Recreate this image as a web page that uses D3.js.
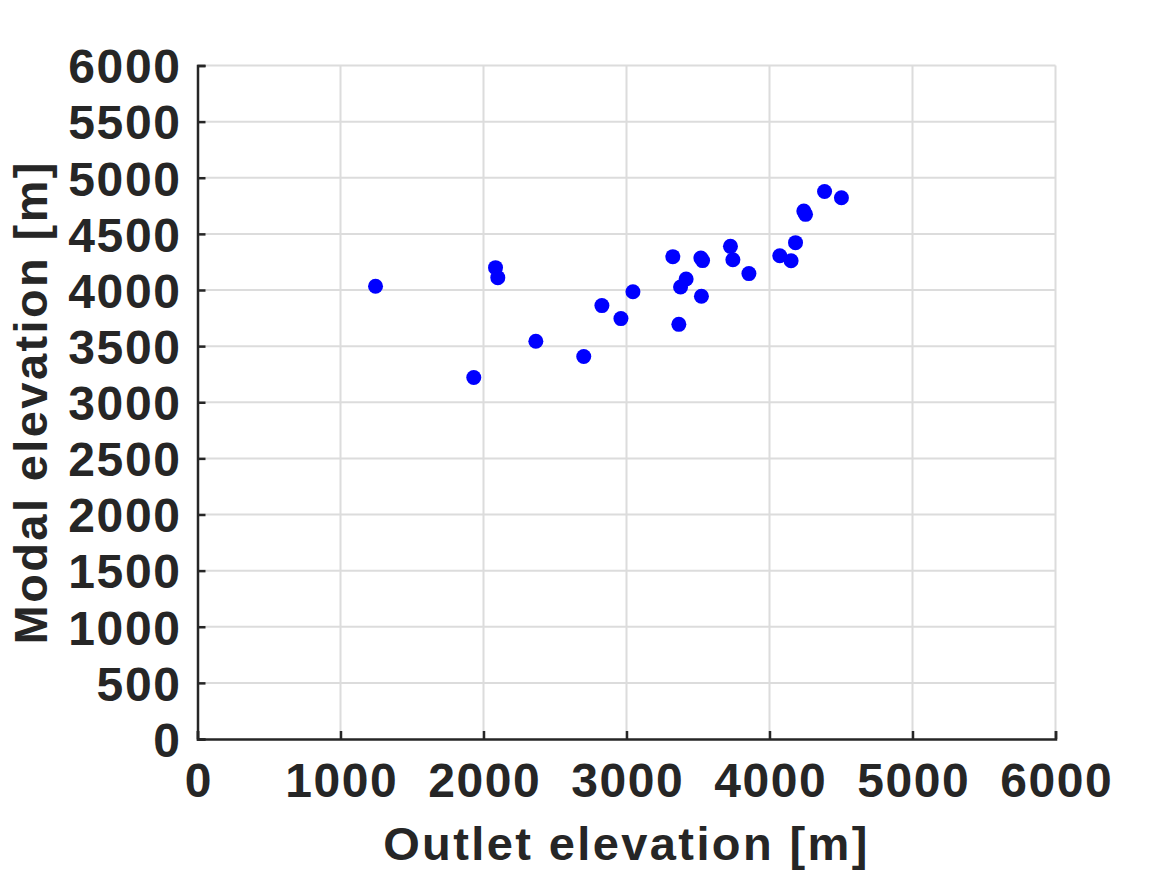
<!DOCTYPE html>
<html><head><meta charset="utf-8">
<script src="https://cdn.jsdelivr.net/npm/d3@7"></script>
<style>body{margin:0;background:#fff}</style>
</head><body>
<svg id="c" width="1167" height="875"></svg>
<script>
const outletElev = [1245, 2084, 2100, 1932, 2366, 2701, 2828, 2961, 3045, 3324, 3366, 3378, 3417, 3520, 3532, 3524, 3727, 3744, 3856, 4072, 4151, 4182, 4240, 4252, 4385, 4503];
const modalElev  = [4034, 4199, 4110, 3220, 3543, 3407, 3861, 3745, 3985, 4297, 3694, 4027, 4098, 4285, 4262, 3944, 4389, 4270, 4146, 4305, 4261, 4422, 4703, 4674, 4878, 4822];
const xTicks = [0, 1000, 2000, 3000, 4000, 5000, 6000];
const yTicks = [0, 500, 1000, 1500, 2000, 2500, 3000, 3500, 4000, 4500, 5000, 5500, 6000];
const xLabel = "Outlet elevation [m]";
const yLabel = "Modal elevation [m]";

const svg = d3.select("#c");
const L = 197.5, R = 1055.5, T = 65.5, B = 739;
const x = d3.scaleLinear().domain([0, 6000]).range([L, R]);
const y = d3.scaleLinear().domain([0, 6000]).range([B, T]);
const ink = "#262626";
const font = "'Liberation Sans', Arial, sans-serif";

// grid
svg.append("g").selectAll("line").data(xTicks.slice(1)).join("line")
  .attr("x1", d => x(d)).attr("x2", d => x(d)).attr("y1", T).attr("y2", B)
  .attr("stroke", "#dcdcdc").attr("stroke-width", 2);
svg.append("g").selectAll("line").data(yTicks.slice(1)).join("line")
  .attr("x1", L).attr("x2", R).attr("y1", d => y(d)).attr("y2", d => y(d))
  .attr("stroke", "#dcdcdc").attr("stroke-width", 2);

// axes
const xAxis = d3.axisBottom(x).tickValues(xTicks).tickSize(-8).tickPadding(24).tickFormat(d3.format("d"));
const yAxis = d3.axisLeft(y).tickValues(yTicks).tickSize(-8).tickPadding(16).tickFormat(d3.format("d"));
const gx = svg.append("g").attr("transform", `translate(0,${B})`).call(xAxis);
const gy = svg.append("g").attr("transform", `translate(${L},0)`).call(yAxis);
[gx, gy].forEach(g => {
  g.select(".domain").attr("stroke", ink).attr("stroke-width", 2.5);
  g.selectAll(".tick line").attr("stroke", ink).attr("stroke-width", 2.5);
  g.selectAll(".tick text").attr("fill", ink).attr("font-family", font)
    .attr("font-weight", "bold").attr("font-size", 48).attr("letter-spacing", "1.6px");
});
gx.selectAll(".tick text").attr("dy", "0.71em").attr("dx", "0.8px");
gy.selectAll(".tick text").attr("dy", "0.36em");

// points
svg.append("g").selectAll("circle").data(outletElev.map((v, i) => [v, modalElev[i]])).join("circle")
  .attr("cx", d => x(d[0])).attr("cy", d => y(d[1])).attr("r", 7.5).attr("fill", "#0000ff");

// labels
svg.append("text").attr("x", (L + R) / 2).attr("y", 860).attr("text-anchor", "middle")
  .attr("font-family", font).attr("font-weight", "bold").attr("font-size", 47).attr("letter-spacing", "2.4px")
  .attr("fill", ink).text(xLabel);
svg.append("text").attr("transform", `translate(47,${(T + B) / 2}) rotate(-90)`).attr("text-anchor", "middle")
  .attr("font-family", font).attr("font-weight", "bold").attr("font-size", 47).attr("letter-spacing", "2.4px")
  .attr("fill", ink).text(yLabel);
</script>
</body></html>
